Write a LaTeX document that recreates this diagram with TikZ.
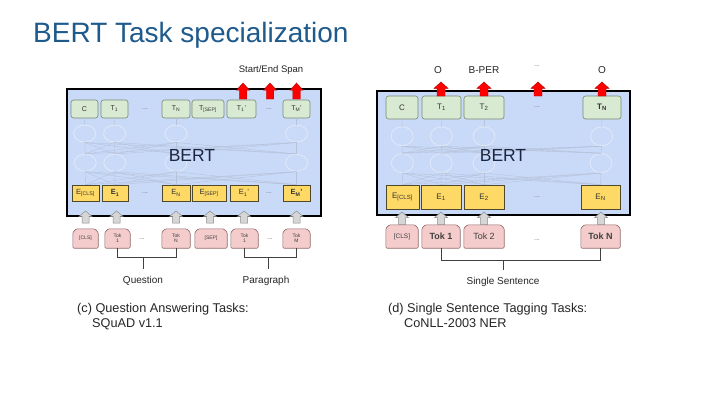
\documentclass[tikz,border=0pt]{standalone}
\usepackage{fontspec}
\setmainfont{Liberation Sans}
\usetikzlibrary{shapes.geometric}
\definecolor{titleblue}{RGB}{31,90,140}
\definecolor{bertbg}{RGB}{201,218,248}
\definecolor{bertnavy}{RGB}{28,38,66}
\definecolor{tgreen}{RGB}{217,234,211}
\definecolor{tborder}{RGB}{120,138,114}
\definecolor{eyellow}{RGB}{255,217,102}
\definecolor{eborder}{RGB}{80,72,45}
\definecolor{tokpink}{RGB}{244,204,204}
\definecolor{tokborder}{RGB}{150,108,108}
\definecolor{netcirc}{RGB}{226,232,246}
\definecolor{netline}{RGB}{182,194,218}
\definecolor{arrgrey}{RGB}{214,214,214}
\newcommand{\myfs}[1]{\fontsize{#1}{#1}\selectfont}
\newcommand{\upblock}[6]{\draw[#1] ({#2-#6/2},#4) -- ({#2-#6/2},{#3+0.45*(#4-#3)}) -- ({#2-#5/2},{#3+0.45*(#4-#3)}) -- (#2,#3) -- ({#2+#5/2},{#3+0.45*(#4-#3)}) -- ({#2+#6/2},{#3+0.45*(#4-#3)}) -- ({#2+#6/2},#4) -- cycle;}
% token box: name, x, y, width, height, font size, text
\newcommand{\tokbox}[7]{%
  \path (#2,#3) node[minimum width=#4, minimum height=#5, inner sep=0] (#1) {};
  \draw[tokfill] (#1.south west) -- ([yshift=-3.5pt]#1.north west) -- ([xshift=3.5pt]#1.north west) -- ([xshift=-3.5pt]#1.north east) -- ([yshift=-3.5pt]#1.north east) -- (#1.south east) -- cycle;
  \node[toktext, font=\myfs{#6}] (#1t) at (#1) {#7};}
\tikzset{
 panel/.style={draw=black, line width=1.6pt, fill=bertbg, inner sep=0},
 tbox/.style={draw=tborder, fill=tgreen, rounded corners=2.5pt, line width=0.6pt, inner sep=0, font=\myfs{7}, text=black!80},
 ebox/.style={draw=eborder, fill=eyellow, line width=0.6pt, inner sep=0, font=\myfs{7.5}, text=black!80},
 tokfill/.style={draw=tokborder, fill=tokpink, line width=0.6pt, rounded corners=1.2pt},
 toktext/.style={inner sep=0, align=center, text=black!75},
 dots/.style={font=\myfs{7}, text=black!55, inner sep=0},
 netnode/.style={ellipse, draw=netcirc, line width=0.8pt, minimum width=22, minimum height=17, inner sep=0},
 netedge/.style={draw=netline, line width=0.4pt},
 bracket/.style={draw=black!75, line width=0.8pt},
 lbl/.style={font=\myfs{10}, inner sep=0, text=black!85},
 capt/.style={font=\myfs{12.7}, anchor=base west, inner sep=0, text=black!85},
 bertlbl/.style={font=\myfs{17.5}, text=bertnavy, inner sep=0},
 redarr/.style={fill=red, draw=red!70!black, line width=0.4pt},
 greyarr/.style={fill=arrgrey, draw=black!45, line width=0.5pt},
}
\begin{document}
\begin{tikzpicture}[x=1pt,y=-1pt]
\useasboundingbox (0,0) rectangle (720,405);
\fill[white] (0,0) rectangle (720,405);
\node[anchor=base west, inner sep=0, text=titleblue, font=\myfs{28}] (title) at (33,42) {BERT Task specialization};

% ================= LEFT PANEL =================
\node[panel, minimum width=254, minimum height=127] (lpanel) at (194,152.5) {};
% T row
\node[tbox, minimum width=27, minimum height=18] (lC) at (84.5,109) {C};
\node[tbox, minimum width=27, minimum height=18] (lTa) at (114.5,109) {T\textsubscript{1}};
\node[dots] (ldt1) at (145,109) {...};
\node[tbox, minimum width=28, minimum height=18] (lTn) at (176,109) {T\textsubscript{N}};
\node[tbox, minimum width=32, minimum height=18] (lTs) at (208,109) {T\textsubscript{[SEP]}};
\node[tbox, minimum width=29, minimum height=18] (lTb) at (241.5,109) {T\textsubscript{1}'};
\node[dots] (ldt2) at (269,109) {...};
\node[tbox, minimum width=27, minimum height=18] (lTm) at (296.5,109) {T\textsubscript{M}'};
% E row
\node[ebox, minimum width=27, minimum height=16] (lEc) at (85.5,193) {E\textsubscript{[CLS]}};
\node[ebox, minimum width=26, minimum height=16] (lEa) at (115,193) {\textbf{E\textsubscript{1}}};
\node[dots] (lde1) at (145,193) {...};
\node[ebox, minimum width=28, minimum height=16] (lEn) at (176,193) {E\textsubscript{N}};
\node[ebox, minimum width=34, minimum height=16] (lEs) at (209,193) {E\textsubscript{[SEP]}};
\node[ebox, minimum width=28, minimum height=16] (lEb) at (244,193) {E\textsubscript{1}'};
\node[dots] (lde2) at (269,193) {...};
\node[ebox, minimum width=27, minimum height=16] (lEm) at (296.5,193) {\textbf{E\textsubscript{M}'}};
% network
\foreach \t/\e [count=\i] in {lC/lEc,lTa/lEa,lTn/lEn,lTm/lEm} {
  \path (\t.south) -- (\e.north) node[netnode, pos=0.23] (la\i) {} node[netnode, pos=0.67] (lb\i) {};
}
\foreach \t/\e [count=\i] in {lC/lEc,lTa/lEa,lTn/lEn,lTm/lEm} {
  \draw[netedge] (\t.south) -- (la\i.north);
  \draw[netedge] (la\i.south) -- (lb\i.north);
  \draw[netedge] (lb\i.south) -- (\e.north);
  \foreach \j/\f in {1/lEc,2/lEa,3/lEn,4/lEm} {
    \ifnum\i=\j\else
      \draw[netedge] (lb\i.north) -- (la\j.south);
      \draw[netedge] (\f.north) -- (lb\i.south);
    \fi
  }
}
\node[bertlbl] (lbertlbl) at (192,155) {BERT};
% tokens
\tokbox{lkc}{85.5}{238.5}{25}{19}{5}{[CLS]}
\tokbox{lka}{117.5}{238.5}{25}{19}{5}{Tok\\1}
\node[dots] (ldk1) at (142,239) {...};
\tokbox{lkn}{176}{238.5}{28}{19}{5}{Tok\\N}
\tokbox{lks}{211}{238.5}{32}{19}{5}{[SEP]}
\tokbox{lkb}{244.5}{238.5}{27}{19}{5}{Tok\\1}
\node[dots] (ldk2) at (270,239) {...};
\tokbox{lkm}{296.5}{238.5}{27}{19}{5}{Tok\\M}
% grey arrows
\foreach \x in {85.5,116.5,176,210,244,296.5} {\upblock{greyarr}{\x}{211}{223}{13}{7}}
% red arrows
\foreach \x in {243,270,296.5} {\upblock{redarr}{\x}{83}{99}{13}{7.5}}
\node[font=\myfs{9.5}, inner sep=0, text=black!85] (lspan) at (271,70) {Start/End Span};
% brackets
\coordinate (lqs) at (143,257);
\coordinate (lqe) at (143,269);
\draw[bracket] (lka.south) -- (lka.south |- lqs) -- (lkn.south |- lqs) -- (lkn.south);
\draw[bracket] (lqs) -- (lqe);
\node[lbl] (lq) at (143,281) {Question};
\coordinate (lps) at (268,257);
\coordinate (lpe) at (268,269);
\draw[bracket] (lkb.south) -- (lkb.south |- lps) -- (lkm.south |- lps) -- (lkm.south);
\draw[bracket] (lps) -- (lpe);
\node[lbl] (lp) at (266,281) {Paragraph};
\node[capt] (lcap1) at (77,312) {(c) Question Answering Tasks:};
\node[capt] (lcap2) at (92,327) {SQuAD v1.1};

% ================= RIGHT PANEL =================
\node[panel, minimum width=253, minimum height=124] (rpanel) at (503.5,153) {};
\node[tbox, minimum width=32, minimum height=23, font=\myfs{8}] (rC) at (402,107.5) {C};
\node[tbox, minimum width=39, minimum height=23, font=\myfs{8}] (rTa) at (441.5,107.5) {T\textsubscript{1}};
\node[tbox, minimum width=40, minimum height=23, font=\myfs{8}] (rTb) at (484,107.5) {T\textsubscript{2}};
\node[dots] (rdt) at (537,107.5) {...};
\node[tbox, minimum width=38, minimum height=23, font=\myfs{8}] (rTn) at (602,107.5) {\textbf{T\textsubscript{N}}};
\node[ebox, minimum width=33, minimum height=24, font=\myfs{8}] (rEc) at (402.5,197) {E\textsubscript{[CLS]}};
\node[ebox, minimum width=40, minimum height=24, font=\myfs{8}] (rEa) at (441,197) {E\textsubscript{1}};
\node[ebox, minimum width=40, minimum height=24, font=\myfs{8}] (rEb) at (484,197) {E\textsubscript{2}};
\node[dots] (rde) at (537,197) {...};
\node[ebox, minimum width=39, minimum height=24, font=\myfs{8}] (rEn) at (600.5,197) {E\textsubscript{N}};
\foreach \t/\e [count=\i] in {rC/rEc,rTa/rEa,rTb/rEb,rTn/rEn} {
  \path (\t.south) -- (\e.north) node[netnode, minimum height=19, pos=0.26] (ra\i) {} node[netnode, minimum height=19, pos=0.67] (rb\i) {};
}
\foreach \t/\e [count=\i] in {rC/rEc,rTa/rEa,rTb/rEb,rTn/rEn} {
  \draw[netedge] (\t.south) -- (ra\i.north);
  \draw[netedge] (ra\i.south) -- (rb\i.north);
  \draw[netedge] (rb\i.south) -- (\e.north);
  \foreach \j/\f in {1/rEc,2/rEa,3/rEb,4/rEn} {
    \ifnum\i=\j\else
      \draw[netedge] (rb\i.north) -- (ra\j.south);
      \draw[netedge] (\f.north) -- (rb\i.south);
    \fi
  }
}
\node[bertlbl] (rbertlbl) at (503,155) {BERT};
\tokbox{rkc}{402}{236.5}{32}{23}{6.5}{[CLS]}
\tokbox{rka}{441}{236.5}{38}{23}{9}{\textbf{Tok 1}}
\tokbox{rkb}{484}{236.5}{40}{23}{9}{Tok 2}
\node[dots] (rdk) at (537,240) {...};
\tokbox{rkn}{600.5}{236.5}{39}{23}{9}{\textbf{Tok N}}
\foreach \x in {402,441,484,601} {\upblock{greyarr}{\x}{212}{224.5}{13}{7}}
\foreach \x in {441,484,538,602} {\upblock{redarr}{\x}{82}{96}{14}{8}}
\node[lbl] (ro1) at (438,70) {O};
\node[lbl] (rbper) at (484,70) {B-PER};
\node[dots] (rdl) at (537,66) {...};
\node[lbl] (ro2) at (602,70) {O};
\coordinate (rss) at (503,260);
\coordinate (rse) at (503,270);
\draw[bracket] (rka.south) -- (rka.south |- rss) -- (rkn.south |- rss) -- (rkn.south);
\draw[bracket] (rss) -- (rse);
\node[lbl] (rsl) at (503,282) {Single Sentence};
\node[capt] (rcap1) at (388,312) {(d) Single Sentence Tagging Tasks:};
\node[capt] (rcap2) at (404,327) {CoNLL-2003 NER};
\end{tikzpicture}
\end{document}
